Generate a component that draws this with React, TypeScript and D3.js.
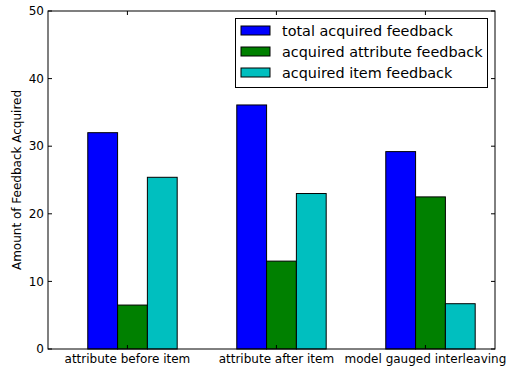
import React from "react";
import * as d3 from "d3";

const categories = ["attribute before item", "attribute after item", "model gauged interleaving"];
const seriesNames = ["total acquired feedback", "acquired attribute feedback", "acquired item feedback"];
const totalFeedback = [32.0, 36.1, 29.2];
const attributeFeedback = [6.5, 13.0, 22.5];
const itemFeedback = [25.4, 23.0, 6.7];
const seriesColors = ["#0000ff", "#008000", "#00bfbf"];
const yTicks = [0, 10, 20, 30, 40, 50];

const W = 517;
const H = 367;
const M = { left: 48, right: 22, top: 11, bottom: 18 };
const FONT = "DejaVu Sans, sans-serif";

export default function App() {
  const series = [totalFeedback, attributeFeedback, itemFeedback];
  const x = d3.scaleLinear().domain([0, 3]).range([M.left, W - M.right]);
  const y = d3.scaleLinear().domain([0, 50]).range([H - M.bottom, M.top]);
  const barW = 0.2;
  const offset = 0.267;
  const tickPos = (i: number) => i + offset + 1.33 * barW;
  const x0 = M.left, x1 = W - M.right, y0 = H - M.bottom, y1 = M.top;
  const tl = 4;

  return (
    <svg width={W} height={H} style={{ position: "absolute", left: 0, top: 0, background: "#fff" }} fontFamily={FONT}>
      <rect width={W} height={H} fill="#fff" />
      {series.map((vals, s) =>
        vals.map((v, i) => {
          const bx = x(i + offset + s * barW);
          const bw = x(barW) - x(0);
          return (
            <rect key={`${s}-${i}`} x={bx} y={y(v)} width={bw} height={y(0) - y(v)}
              fill={seriesColors[s]} stroke="#000" strokeWidth={1} />
          );
        })
      )}
      {/* frame */}
      <rect x={x0} y={y1} width={x1 - x0} height={y0 - y1} fill="none" stroke="#000" strokeWidth={1} />
      {/* y ticks */}
      {yTicks.map((t) => (
        <g key={t}>
          <line x1={x0} x2={x0 + tl} y1={y(t)} y2={y(t)} stroke="#000" />
          <line x1={x1} x2={x1 - tl} y1={y(t)} y2={y(t)} stroke="#000" />
          <text x={x0 - 4} y={y(t)} dy="0.35em" textAnchor="end" fontSize={12}>{t}</text>
        </g>
      ))}
      {/* x ticks */}
      {categories.map((c, i) => (
        <g key={c}>
          <line x1={x(tickPos(i))} x2={x(tickPos(i))} y1={y0} y2={y0 - tl} stroke="#000" />
          <line x1={x(tickPos(i))} x2={x(tickPos(i))} y1={y1} y2={y1 + tl} stroke="#000" />
          <text x={x(tickPos(i))} y={y0 + 14} textAnchor="middle" fontSize={12}>{c}</text>
        </g>
      ))}
      <text transform={`translate(21,${(y0 + y1) / 2}) rotate(-90)`} textAnchor="middle" fontSize={12}>
        Amount of Feedback Acquired
      </text>
      {/* legend */}
      <g>
        <rect x={235.5} y={18.5} width={252} height={69} fill="#fff" stroke="#000" strokeWidth={1} />
        {seriesNames.map((n, s) => (
          <g key={n}>
            <rect x={241} y={26 + s * 21} width={29} height={9} fill={seriesColors[s]} stroke="#000" strokeWidth={1} />
            <text x={282} y={30.5 + s * 21} dy="0.35em" fontSize={14.4}>{n}</text>
          </g>
        ))}
      </g>
    </svg>
  );
}
